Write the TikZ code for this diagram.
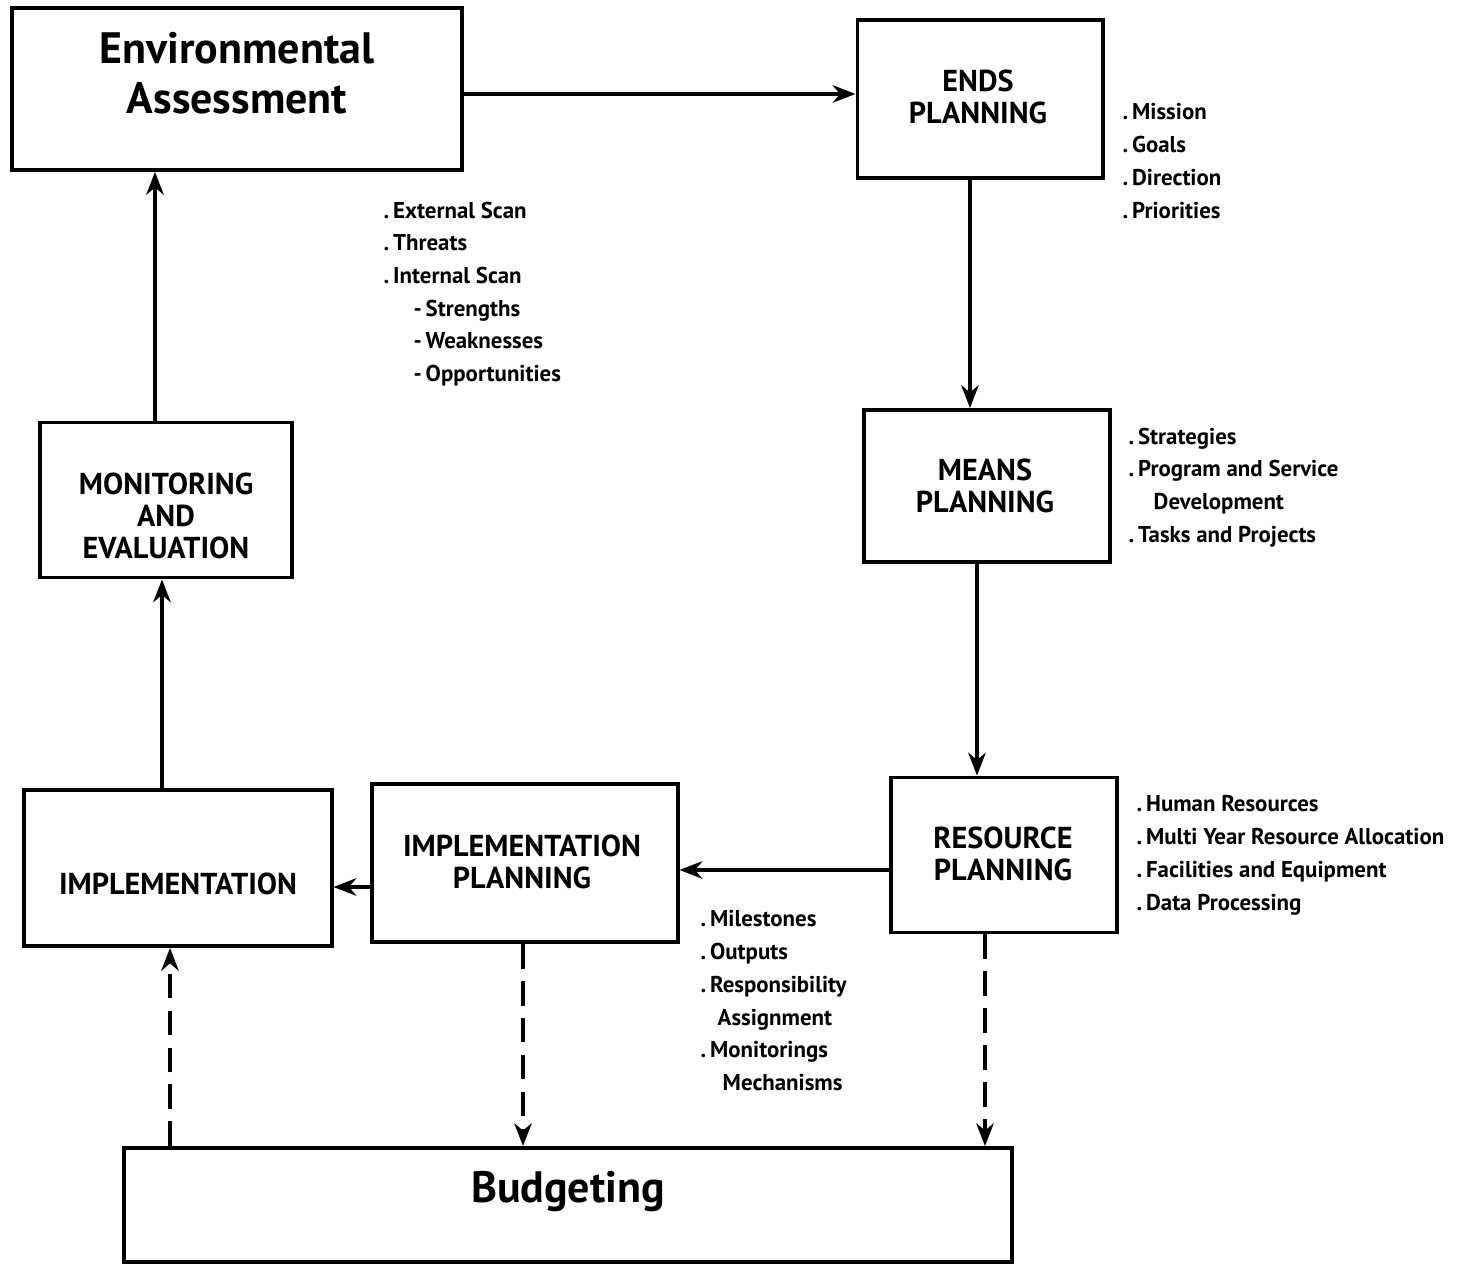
\documentclass[tikz,border=0pt]{standalone}
\usepackage{fontspec}
\setmainfont{PT Sans}
\usetikzlibrary{arrows.meta}
\begin{document}
\begin{tikzpicture}[x=0.01cm,y=-0.01cm,
 box/.style={draw, line width=1.1pt, inner sep=0},
 lbl/.style={font=\bfseries\fontsize{8.6}{9.1}\selectfont, align=center, inner sep=0},
 big/.style={font=\bfseries\fontsize{12.5}{14.2}\selectfont, align=center, inner sep=0},
 lst/.style={font=\bfseries\fontsize{6.5}{9.3}\selectfont, align=left, inner sep=0, anchor=north west},
 arr/.style={line width=0.9pt, -{Stealth[length=6.5pt,width=5pt]}},
 darr/.style={arr, dash pattern=on 7pt off 3.5pt}]
\path[use as bounding box, fill=white] (0,0) rectangle (1478,1268);

% boxes
\node[box, minimum width=4.5cm, minimum height=1.62cm] (ea) at (237,89) {};
\node[big] (eat) at (237,73) {Environmental\\Assessment};

\node[box, minimum width=2.45cm, minimum height=1.58cm] (ends) at (980,99) {};
\node[lbl] (endst) at (978,97) {ENDS\\PLANNING};

\node[box, minimum width=2.46cm, minimum height=1.52cm] (means) at (987,486) {};
\node[lbl] (meanst) at (985,486) {MEANS\\PLANNING};

\node[box, minimum width=2.26cm, minimum height=1.55cm] (res) at (1004,855) {};
\node[lbl] (rest) at (1003,854) {RESOURCE\\PLANNING};

\node[box, minimum width=3.05cm, minimum height=1.58cm] (ip) at (525,863) {};
\node[lbl] (ipt) at (522,862) {IMPLEMENTATION\\PLANNING};

\node[box, minimum width=3.07cm, minimum height=1.56cm] (impl) at (178,868) {};
\node[lbl] (implt) at (178,884) {IMPLEMENTATION};

\node[box, minimum width=2.51cm, minimum height=1.55cm] (mon) at (166,500) {};
\node[lbl] (mont) at (166,516) {MONITORING\\AND\\EVALUATION};

\node[box, minimum width=8.87cm, minimum height=1.14cm] (bud) at (568,1205) {};
\node[big] (budt) at (568,1192) {Budgeting};

% lists
\node[lst] (l1) at (383,201) {.\,External Scan\\.\,Threats\\.\,Internal Scan\\\hspace*{0.3cm}-\,Strengths\\\hspace*{0.3cm}-\,Weaknesses\\\hspace*{0.3cm}-\,Opportunities};
\node[lst] (l2) at (1122,103) {.\,Mission\\.\,Goals\\.\,Direction\\.\,Priorities};
\node[lst] (l3) at (1128,427) {.\,Strategies\\.\,Program and Service\\\hspace*{0.25cm}Development\\.\,Tasks and Projects};
\node[lst] (l4) at (1136,795) {.\,Human Resources\\.\,Multi Year Resource Allocation\\.\,Facilities and Equipment\\.\,Data Processing};
\node[lst] (l5) at (700,910) {.\,Milestones\\.\,Outputs\\.\,Responsibility\\\hspace*{0.17cm}Assignment\\.\,Monitorings\\\hspace*{0.22cm}Mechanisms};

% connectors
\draw[arr] ([yshift=-0.05cm]ea.east) -- ([yshift=-0.05cm]ea.east -| ends.west);
\draw[arr] ([xshift=-0.1cm]ends.south) -- ([xshift=-0.1cm]ends.south |- means.north);
\draw[arr] ([xshift=-0.1cm]means.south) -- ([xshift=-0.1cm]means.south |- res.north);
\draw[arr] ([yshift=-0.15cm]res.west) -- ([yshift=-0.15cm]res.west -| ip.east);
\draw[arr] ([yshift=-0.24cm]ip.west) -- ([yshift=-0.24cm]ip.west -| impl.east);
\draw[arr] ([xshift=-0.16cm]impl.north) -- ([xshift=-0.16cm]impl.north |- mon.south);
\draw[arr] ([xshift=-0.11cm]mon.north) -- ([xshift=-0.11cm]mon.north |- ea.south);
\draw[darr] ([xshift=-0.02cm]ip.south) -- ([xshift=-0.02cm]ip.south |- bud.north);
\draw[darr] ([xshift=-0.19cm]res.south) -- ([xshift=-0.19cm]res.south |- bud.north);
\draw[darr] ([xshift=-0.08cm]impl.south |- bud.north) -- ([xshift=-0.08cm]impl.south);
\end{tikzpicture}
\end{document}
